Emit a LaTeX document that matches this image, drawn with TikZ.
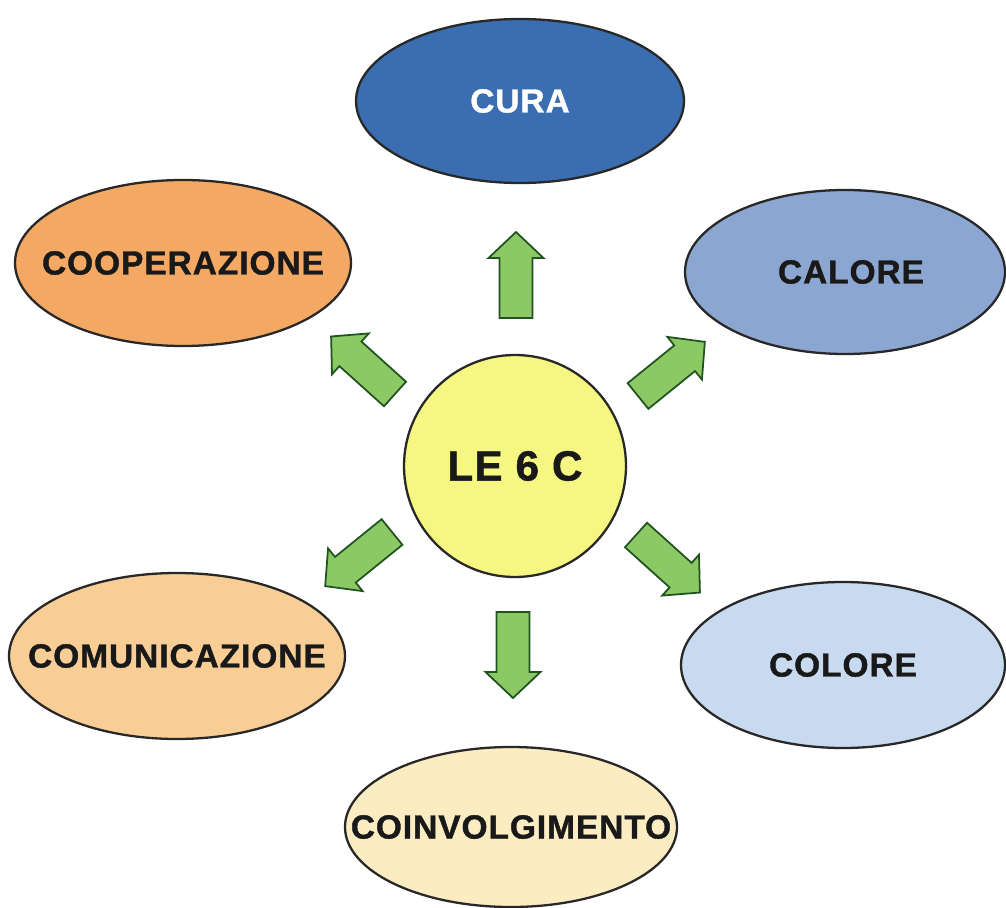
\documentclass[tikz,border=0pt]{standalone}
\usepackage{fontspec}
\setmainfont{Liberation Sans}
\newfontfamily\heavy{Liberation Sans}[BoldFeatures={FakeBold=1.2}, LetterSpace=3]
\usetikzlibrary{shapes.geometric}
\definecolor{cura}{RGB}{58,110,176}
\definecolor{calore}{RGB}{140,166,210}
\definecolor{coop}{RGB}{243,168,100}
\definecolor{comu}{RGB}{248,205,150}
\definecolor{colore}{RGB}{200,218,240}
\definecolor{coinv}{RGB}{252,236,194}
\definecolor{centre}{RGB}{246,246,130}
\definecolor{arrowfill}{RGB}{140,200,100}
\definecolor{edge}{RGB}{40,40,40}
\tikzset{
  oval/.style={ellipse, draw=edge, line width=1.3pt, inner sep=0pt},
  ovaltext/.style={font=\heavy\fontsize{19}{22}\selectfont\bfseries, text=black!90},
  hub/.style={circle, draw=edge, line width=1.3pt, fill=centre, inner sep=0pt,
    minimum size=222*0.02cm, font=\heavy\fontsize{24}{28}\selectfont\bfseries, text=black!90},
  blockarrow/.style={draw=edge!80!green, line width=1pt, fill=arrowfill, line join=miter}
}
\newcommand{\blockarr}[3]{% name, tail position, angle
  \begin{scope}[shift={#2}, rotate=#3]
    \coordinate (#1) at (0,0);
    \draw[blockarrow] (0,-16.5) -- (60,-16.5) -- (60,-27.5) -- (86,0)
      -- (60,27.5) -- (60,16.5) -- (0,16.5) -- cycle;
  \end{scope}}
\begin{document}
\begin{tikzpicture}[x=0.02cm, y=-0.02cm]
\useasboundingbox (0,0) rectangle (1006,908);
\fill[white] (0,0) rectangle (1006,908);

\node[hub] (hub) at (515,466) {LE 6 C};

\node[oval, fill=cura, minimum width=328*0.02cm, minimum height=164*0.02cm,
  label={[ovaltext, text=white]center:CURA}] (cura) at (520,101) {};
\node[oval, fill=calore, minimum width=320*0.02cm, minimum height=164*0.02cm,
  label={[ovaltext, xshift=6*0.02cm]center:CALORE}] (calore) at (845,272) {};
\node[oval, fill=coop, minimum width=336*0.02cm, minimum height=166*0.02cm,
  label={[ovaltext]center:COOPERAZIONE}] (coop) at (183,263) {};
\node[oval, fill=comu, minimum width=336*0.02cm, minimum height=166*0.02cm,
  label={[ovaltext]center:COMUNICAZIONE}] (comu) at (177,656) {};
\node[oval, fill=colore, minimum width=324*0.02cm, minimum height=166*0.02cm,
  label={[ovaltext]center:COLORE}] (colore) at (843,665) {};
\node[oval, fill=coinv, minimum width=332*0.02cm, minimum height=160*0.02cm,
  label={[ovaltext]center:COINVOLGIMENTO}] (coinv) at (511,827) {};

\blockarr{aup}{(516,318)}{90}
\blockarr{adown}{(513,612)}{-90}
\blockarr{aul}{(395,394)}{138}
\blockarr{aur}{(638,396)}{39}
\blockarr{all}{(392,532)}{219}
\blockarr{alr}{(636,535)}{-42}
\end{tikzpicture}
\end{document}
